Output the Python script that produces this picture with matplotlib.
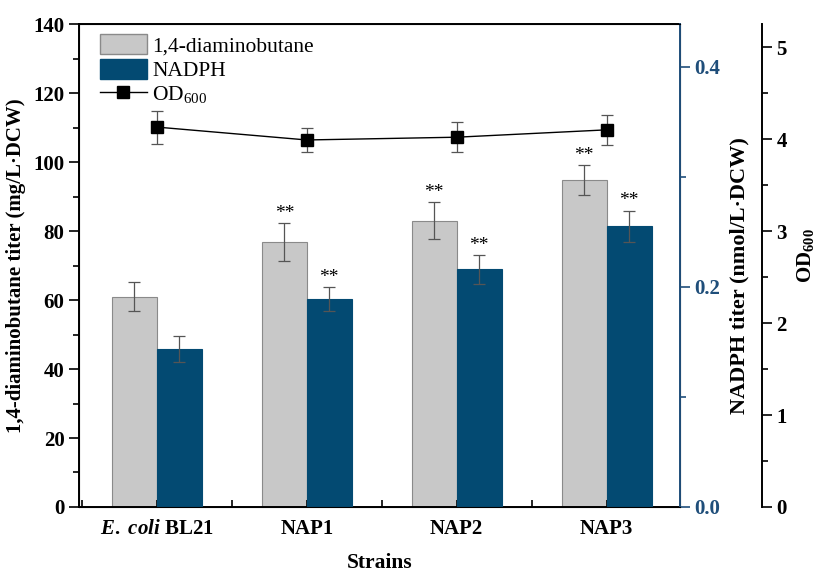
import matplotlib
import matplotlib.pyplot as plt
import numpy as np
from matplotlib.ticker import MultipleLocator
from matplotlib.lines import Line2D
from matplotlib.patches import Patch

matplotlib.use("Agg")

plt.rcParams["font.family"] = ["Liberation Serif", "DejaVu Serif"]
plt.rcParams["mathtext.fontset"] = "custom"
plt.rcParams["mathtext.it"] = "Liberation Serif:italic:bold"
plt.rcParams["mathtext.rm"] = "Liberation Serif:bold"

strains = [r"$\mathit{E.}$ $\mathit{coli}$ BL21", "NAP1", "NAP2", "NAP3"]
dab = [61.0, 76.8, 83.0, 94.8]
dab_err = [4.2, 5.4, 5.3, 4.3]
nadph = [0.1436, 0.189, 0.216, 0.255]
nadph_err = [0.012, 0.011, 0.013, 0.0145]
od = [4.13, 3.99, 4.02, 4.10]
od_err = [0.18, 0.13, 0.16, 0.16]

GRAY = "#c8c8c8"
BLUE = "#034a72"
AXBLUE = "#1f4e7a"
ERR = "#555555"
TICK = 15

fig = plt.figure(figsize=(8.17, 5.73), dpi=100)
ax = fig.add_axes([0.0967, 0.1152, 0.7356, 0.8428])
ax2 = ax.twinx()
ax3 = ax.twinx()

x = np.arange(len(strains))
w = 0.3

ax.bar(x - w / 2, dab, w, color=GRAY, edgecolor="#8a8a8a", linewidth=0.8,
       yerr=dab_err, error_kw=dict(ecolor=ERR, elinewidth=0.9, capsize=4.5, capthick=0.9))
ax2.bar(x + w / 2, nadph, w, color=BLUE, edgecolor=BLUE, linewidth=0.8,
        yerr=nadph_err, error_kw=dict(ecolor=ERR, elinewidth=0.9, capsize=4.5, capthick=0.9))
ax3.errorbar(x, od, yerr=od_err, color="black", lw=1.0, marker="s", ms=9,
             ecolor=ERR, elinewidth=0.9, capsize=4.5, capthick=0.9)

# significance marks
for i in range(1, 4):
    ax.annotate("**", (x[i] - w / 2, dab[i] + dab_err[i]), xytext=(0, 1),
                textcoords="offset points", ha="center", va="bottom", fontsize=14)
    ax2.annotate("**", (x[i] + w / 2, nadph[i] + nadph_err[i]), xytext=(0, 1),
                 textcoords="offset points", ha="center", va="bottom", fontsize=14)

ax.set_xlim(-0.52, 3.49)
ax.set_ylim(0, 140)
ax2.set_ylim(0, 0.439)
ax3.set_ylim(0, 5.25)

ax.set_xticks(x)
ax.set_xticklabels(strains, fontsize=TICK, fontweight="bold")
ax.xaxis.set_minor_locator(MultipleLocator(0.5))
ax.tick_params(axis="x", which="both", direction="in", length=5, width=1.2, pad=9)

ax.yaxis.set_major_locator(MultipleLocator(20))
ax.yaxis.set_minor_locator(MultipleLocator(10))
ax.tick_params(axis="y", which="major", direction="out", length=7, width=1.2, labelsize=TICK)
ax.tick_params(axis="y", which="minor", direction="out", length=4, width=1.2)
for lab in ax.get_yticklabels():
    lab.set_fontweight("bold")

ax2.set_yticks([0.0, 0.2, 0.4])
ax2.set_yticklabels(["0.0", "0.2", "0.4"], fontweight="bold")
ax2.yaxis.set_minor_locator(MultipleLocator(0.1))
ax2.tick_params(axis="y", which="major", direction="out", length=7, width=1.2,
                labelsize=TICK, colors=AXBLUE)
ax2.tick_params(axis="y", which="minor", direction="out", length=4, width=1.2, colors=AXBLUE)
ax2.spines["right"].set_color(AXBLUE)
ax2.spines["right"].set_linewidth(1.4)

ax3.spines["right"].set_position(("outward", 59))
for s in ["top", "left", "bottom"]:
    ax3.spines[s].set_visible(False)
ax3.spines["right"].set_linewidth(1.4)
ax3.yaxis.set_major_locator(MultipleLocator(1))
ax3.yaxis.set_minor_locator(MultipleLocator(0.5))
ax3.tick_params(axis="y", which="major", direction="out", length=7, width=1.2, labelsize=TICK)
ax3.tick_params(axis="y", which="minor", direction="out", length=4, width=1.2)
for lab in ax3.get_yticklabels():
    lab.set_fontweight("bold")

for s in ["left", "bottom", "top"]:
    ax.spines[s].set_linewidth(1.4)

ax.set_xlabel("Strains", fontsize=15.5, fontweight="bold", labelpad=10)
ax.set_ylabel("1,4-diaminobutane titer (mg/L·DCW)", fontsize=15, fontweight="bold", labelpad=5)
ax2.set_ylabel("NADPH titer (nmol/L·DCW)", fontsize=16, fontweight="bold")
ax3.set_ylabel(r"OD$_{600}$", fontsize=15, fontweight="bold")
ax2.yaxis.set_label_coords(1.082, 0.48)
ax3.yaxis.set_label_coords(1.192, 0.52)

handles = [
    Patch(facecolor=GRAY, edgecolor="#8a8a8a", label="1,4-diaminobutane"),
    Patch(facecolor=BLUE, edgecolor=BLUE, label="NADPH"),
    Line2D([], [], color="black", marker="s", ms=9, lw=1.0, label=r"OD$_\mathregular{600}$"),
]
ax.legend(handles=handles, loc="upper left", bbox_to_anchor=(0.013, 1.006), frameon=False,
          fontsize=15.5, handlelength=2.2, handleheight=1.05, labelspacing=0.1,
          handletextpad=0.25, borderaxespad=0.2)

fig.savefig("out.png", dpi=100)
